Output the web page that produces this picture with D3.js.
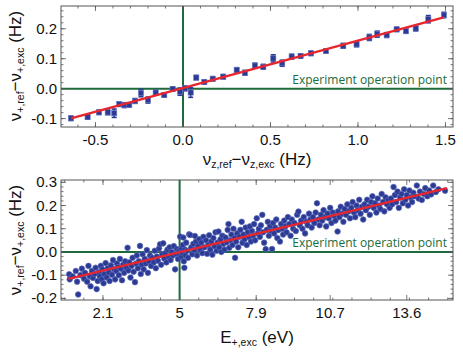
<!DOCTYPE html>
<html><head><meta charset="utf-8">
<script src="https://cdn.jsdelivr.net/npm/d3@7"></script>
<style>html,body{margin:0;padding:0;background:#fff;}svg{display:block;}</style>
</head><body>
<script>
// ---------- DATA ----------
const topX = [-0.64,-0.545,-0.48,-0.43,-0.393,-0.364,-0.335,-0.307,-0.274,-0.24,-0.20,-0.156,-0.107,-0.059,-0.017,0.011,0.044,0.076,0.122,0.17,0.23,0.307,0.354,0.411,0.459,0.516,0.567,0.621,0.672,0.731,0.817,0.916,0.992,1.065,1.11,1.164,1.221,1.274,1.33,1.402,1.491];
const topY = [-0.099,-0.095,-0.079,-0.079,-0.082,-0.052,-0.055,-0.054,-0.041,-0.015,-0.038,-0.013,-0.021,-0.001,-0.010,0.001,-0.013,0.037,0.022,0.033,0.040,0.062,0.053,0.077,0.073,0.101,0.085,0.107,0.109,0.118,0.126,0.143,0.148,0.171,0.182,0.179,0.198,0.192,0.201,0.232,0.246];
const topErr = [0.007,0.007,0.007,0.008,0.014,0.007,0.008,0.007,0.008,0.012,0.010,0.008,0.007,0.007,0.012,0.008,0.016,0.007,0.007,0.007,0.007,0.008,0.008,0.008,0.008,0.012,0.010,0.008,0.007,0.007,0.007,0.008,0.008,0.010,0.010,0.008,0.007,0.007,0.008,0.012,0.009];
const topFitX = [-0.64, 1.49];
const topFitY = [-0.099, 0.238];
const topXTicks = [-0.5, 0.0, 0.5, 1.0, 1.5];
const topYTicks = [-0.1, 0.0, 0.1, 0.2];

const botE = [0.82,0.84,0.95,1.07,1.12,1.16,1.25,1.30,1.38,1.42,1.50,1.55,1.60,1.63,1.68,1.72,1.78,1.82,1.86,1.90,1.95,1.98,2.02,2.05,
2.08,2.12,2.15,2.20,2.24,2.28,2.32,2.35,2.40,2.44,2.48,2.52,2.56,2.60,2.63,2.67,2.70,2.74,2.78,2.82,2.86,2.90,2.94,2.98,
3.03,3.06,3.10,3.14,3.18,3.22,3.26,3.31,3.35,3.38,3.42,3.46,3.50,3.53,3.57,3.60,3.64,3.68,3.72,3.76,3.80,3.84,3.88,3.92,3.96,
4.02,4.06,4.10,4.14,4.18,4.22,4.26,4.30,4.34,4.38,4.42,4.46,4.50,4.54,4.58,4.62,4.66,4.70,4.74,4.78,4.83,4.86,4.90,4.94,4.97,
5.00,5.02,5.04,5.06,5.08,5.10,5.12,5.14,5.16,5.18,5.20,5.22,5.25,5.28,5.32,5.36,5.40,5.44,5.48,5.52,5.56,5.58,5.62,5.66,5.70,5.74,5.78,5.82,5.86,5.90,5.94,
6.00,6.04,6.08,6.12,6.16,6.20,6.24,6.28,6.32,6.36,6.40,6.44,6.47,6.50,6.55,6.58,6.62,6.66,6.70,6.74,6.78,6.82,6.85,6.88,6.92,6.96,
7.00,7.04,7.08,7.10,7.14,7.18,7.22,7.26,7.30,7.35,7.38,7.42,7.46,7.50,7.54,7.58,7.62,7.66,7.70,7.74,7.78,7.82,7.86,7.92,7.96,
8.00,8.04,8.08,8.13,8.16,8.20,8.26,8.30,8.34,8.38,8.42,8.46,8.50,8.54,8.58,8.62,8.66,8.70,8.74,8.80,8.84,8.88,8.92,8.96,
9.00,9.05,9.10,9.15,9.20,9.25,9.30,9.35,9.40,9.45,9.50,9.55,9.60,9.65,9.70,9.75,9.80,9.85,9.90,9.95,
10.00,10.05,10.10,10.15,10.20,10.25,10.30,10.35,10.40,10.45,10.50,10.55,10.60,10.65,10.70,10.75,10.80,10.85,10.90,10.98,
11.00,11.05,11.10,11.15,11.20,11.25,11.30,11.35,11.40,11.45,11.50,11.55,11.60,11.65,11.70,11.75,11.80,11.85,11.90,11.95,
12.00,12.05,12.10,12.15,12.20,12.25,12.30,12.35,12.40,12.45,12.50,12.55,12.60,12.65,12.70,12.75,12.80,12.85,12.90,12.95,
13.00,13.05,13.10,13.15,13.20,13.25,13.30,13.35,13.40,13.45,13.50,13.55,13.60,13.65,13.70,13.75,13.80,13.85,13.90,13.98,
14.05,14.10,14.17,14.25,14.30,14.38,14.45,14.52,14.60,14.70,14.80,15.05];
const botY = [-0.096,-0.118,-0.105,-0.082,-0.128,-0.183,-0.100,-0.072,-0.115,-0.090,-0.128,-0.060,-0.105,-0.148,-0.082,-0.112,-0.095,-0.068,-0.160,-0.125,-0.088,-0.105,-0.060,-0.118,
-0.075,-0.135,-0.095,-0.048,-0.110,-0.070,-0.088,-0.125,-0.058,-0.098,-0.035,-0.075,-0.118,-0.082,-0.050,-0.065,-0.100,-0.030,-0.072,-0.122,-0.055,-0.090,-0.040,-0.068,
0.018,-0.080,-0.045,-0.110,-0.060,-0.025,-0.085,-0.130,-0.050,-0.015,-0.070,-0.040,0.026,-0.095,-0.055,-0.010,-0.075,-0.030,-0.050,0.008,-0.090,-0.040,-0.015,-0.060,-0.025,
-0.045,0.005,-0.070,-0.020,-0.038,0.015,0.033,-0.055,-0.010,0.037,-0.028,-0.005,-0.045,0.010,-0.020,0.020,-0.035,0.000,-0.015,0.025,-0.075,-0.008,0.012,-0.030,0.005,
-0.010,0.066,0.002,-0.020,0.015,-0.005,0.030,0.062,-0.040,-0.068,0.010,-0.015,0.040,0.005,-0.025,0.076,0.073,0.020,-0.010,0.035,0.008,0.069,0.045,-0.015,0.025,0.055,0.010,0.040,-0.005,0.065,0.020,
0.050,-0.008,0.030,0.072,0.010,0.045,-0.012,0.060,0.025,0.085,0.005,0.040,0.088,0.020,0.055,0.000,0.070,0.035,0.010,0.062,0.042,0.095,0.120,0.018,0.050,0.075,
0.030,0.100,0.060,-0.025,0.045,0.080,0.020,0.065,0.095,0.130,0.040,0.075,0.055,0.105,0.030,0.085,0.065,0.110,0.045,0.090,0.070,0.120,0.050,0.145,0.080,
0.100,0.065,0.115,0.160,0.085,0.040,0.012,0.095,0.130,0.070,0.110,0.090,0.013,0.125,0.080,0.105,0.140,0.060,0.095,0.045,0.120,0.100,0.075,0.135,
0.110,0.085,0.150,0.120,0.070,0.140,0.100,0.125,0.090,0.160,0.174,0.115,0.135,0.100,0.150,0.080,0.130,0.115,0.165,0.140,
0.105,0.150,0.125,0.170,0.210,0.140,0.115,0.160,0.135,0.180,0.150,0.110,0.165,0.145,0.190,0.125,0.170,0.155,0.135,0.088,
0.175,0.150,0.195,0.165,0.130,0.185,0.160,0.205,0.175,0.145,0.190,0.215,0.170,0.150,0.200,0.180,0.225,0.165,0.195,0.140,
0.205,0.180,0.225,0.195,0.160,0.215,0.240,0.190,0.210,0.170,0.230,0.200,0.185,0.250,0.215,0.175,0.235,0.205,0.225,0.190,
0.230,0.205,0.280,0.245,0.215,0.260,0.190,0.235,0.250,0.210,0.270,0.225,0.245,0.200,0.265,0.235,0.215,0.255,0.240,0.286,
0.230,0.260,0.224,0.250,0.275,0.240,0.265,0.248,0.286,0.258,0.270,0.264];
const botFitX = [0.79, 15.12];
const botFitY = [-0.116, 0.275];
const botXTicks = [2.1, 5, 7.9, 10.7, 13.6];
const botYTicks = [-0.2, -0.1, 0.0, 0.1, 0.2, 0.3];
const annotation = "Experiment operation point";

// ---------- STYLE ----------
const W = 463, H = 356;
const GREEN = "#1d6b3a", BLUE = "#2b3a94", RED = "#e8262d", FRAME = "#555";

const svg = d3.select("body").append("svg").attr("width", W).attr("height", H)
  .style("font-family", "'Liberation Sans', Arial, sans-serif");
svg.append("rect").attr("width", W).attr("height", H).attr("fill", "#fff");

function panel(cfg) {
  const {x, y, left, right, top, bottom, xTicks, yTicks, xMinor, yMinor, xFmt, yFmt, id} = cfg;
  const g = svg.append("g");
  g.append("clipPath").attr("id", id).append("rect")
    .attr("x", left).attr("y", top).attr("width", right - left).attr("height", bottom - top);
  g.append("line").attr("x1", left).attr("x2", right).attr("y1", y(0)).attr("y2", y(0))
    .attr("stroke", GREEN).attr("stroke-width", 2);
  g.append("line").attr("x1", x(cfg.vLine)).attr("x2", x(cfg.vLine)).attr("y1", top).attr("y2", bottom)
    .attr("stroke", GREEN).attr("stroke-width", 2);
  g.append("rect").attr("x", left).attr("y", top).attr("width", right - left).attr("height", bottom - top)
    .attr("fill", "none").attr("stroke", FRAME).attr("stroke-width", 1);
  const tk = g.append("g").attr("stroke", FRAME).attr("stroke-width", 0.8);
  xMinor.forEach(v => {
    const px = x(v); if (px < left || px > right) return;
    tk.append("line").attr("x1", px).attr("x2", px).attr("y1", bottom).attr("y2", bottom - 2.5);
    tk.append("line").attr("x1", px).attr("x2", px).attr("y1", top).attr("y2", top + 2.5);
  });
  xTicks.forEach(v => {
    const px = x(v);
    tk.append("line").attr("x1", px).attr("x2", px).attr("y1", bottom).attr("y2", bottom - 5);
    tk.append("line").attr("x1", px).attr("x2", px).attr("y1", top).attr("y2", top + 5);
  });
  yMinor.forEach(v => {
    const py = y(v); if (py < top || py > bottom) return;
    tk.append("line").attr("x1", left).attr("x2", left + 2.5).attr("y1", py).attr("y2", py);
    tk.append("line").attr("x1", right).attr("x2", right - 2.5).attr("y1", py).attr("y2", py);
  });
  yTicks.forEach(v => {
    const py = y(v);
    tk.append("line").attr("x1", left).attr("x2", left + 5).attr("y1", py).attr("y2", py);
    tk.append("line").attr("x1", right).attr("x2", right - 5).attr("y1", py).attr("y2", py);
  });
  yTicks.forEach(v => {
    g.append("text").attr("x", left - 4).attr("y", y(v) + 5).attr("text-anchor", "end")
      .attr("font-size", 15).attr("fill", "#111").text(yFmt(v));
  });
  xTicks.forEach(v => {
    g.append("text").attr("x", x(v)).attr("y", bottom + 18).attr("text-anchor", "middle")
      .attr("font-size", 15).attr("fill", "#111").text(xFmt(v));
  });
  g.append("text").attr("x", right - 6).attr("y", y(0) - 5).attr("text-anchor", "end")
    .attr("font-family", "'Open Sans', sans-serif").attr("font-size", 12).attr("fill", GREEN)
    .text(annotation);
  return g.append("g").attr("clip-path", `url(#${id})`);
}

function addTitle(tx, ty, rotate, parts) {
  const t = svg.append("text").attr("transform", `translate(${tx},${ty})` + (rotate ? " rotate(-90)" : ""))
    .attr("text-anchor", "middle").attr("fill", "#111");
  parts.forEach(p => {
    const s = t.append("tspan").text(p[0]).attr("font-size", p[1]);
    if (p[2]) s.attr("dy", p[2]);
  });
}

// ---------- TOP PANEL ----------
const xT = d3.scaleLinear().domain([-0.697, 1.543]).range([61, 453]);
const yT = d3.scaleLinear().domain([-0.128, 0.276]).range([127, 6]);
const fmt1 = v => (v < 0 ? "-" : "") + Math.abs(v).toFixed(1);
const gT = panel({x: xT, y: yT, left: 61, right: 453, top: 6, bottom: 127, id: "clipT",
  xTicks: topXTicks, yTicks: topYTicks, vLine: 0,
  xMinor: d3.range(-0.7, 1.55, 0.1), yMinor: d3.range(-0.12, 0.28, 0.02),
  xFmt: fmt1, yFmt: fmt1});
const topData = topX.map((v, i) => ({x: v, y: topY[i], e: topErr[i]}));
const eb = gT.append("g").attr("stroke", BLUE).attr("stroke-width", 1.6);
topData.forEach(d => {
  const px = xT(d.x), y1 = yT(d.y - d.e), y2 = yT(d.y + d.e);
  eb.append("line").attr("x1", px).attr("x2", px).attr("y1", y1).attr("y2", y2);
  eb.append("line").attr("x1", px - 2.5).attr("x2", px + 2.5).attr("y1", y1).attr("y2", y1);
  eb.append("line").attr("x1", px - 2.5).attr("x2", px + 2.5).attr("y1", y2).attr("y2", y2);
});
gT.selectAll("rect.pt").data(topData).join("rect").attr("class", "pt")
  .attr("x", d => xT(d.x) - 2.6).attr("y", d => yT(d.y) - 2.6).attr("width", 5.2).attr("height", 5.2)
  .attr("fill", BLUE).attr("stroke", "#6d7cc4").attr("stroke-width", 0.6);
gT.append("path").datum(topFitX.map((v, i) => [v, topFitY[i]]))
  .attr("d", d3.line().x(d => xT(d[0])).y(d => yT(d[1])))
  .attr("stroke", RED).attr("stroke-width", 2.4).attr("fill", "none");

// ---------- BOTTOM PANEL ----------
const xB = d3.scaleLinear().domain([0.51, 15.35]).range([61, 453]);
const yB = d3.scaleLinear().domain([-0.207, 0.31]).range([300, 180]);
const gB = panel({x: xB, y: yB, left: 61, right: 453, top: 180, bottom: 300, id: "clipB",
  xTicks: botXTicks, yTicks: botYTicks, vLine: 5,
  xMinor: d3.range(-0.075, 16, 0.725), yMinor: d3.range(-0.2, 0.32, 0.02),
  xFmt: v => String(v), yFmt: fmt1});
const botData = botE.map((v, i) => ({x: v, y: botY[i]}));
gB.selectAll("circle").data(botData).join("circle")
  .attr("cx", d => xB(d.x)).attr("cy", d => yB(d.y)).attr("r", 2.8)
  .attr("fill", BLUE).attr("stroke", "#5a68b8").attr("stroke-width", 0.7);
gB.append("path").datum(botFitX.map((v, i) => [v, botFitY[i]]))
  .attr("d", d3.line().x(d => xB(d[0])).y(d => yB(d[1])))
  .attr("stroke", RED).attr("stroke-width", 2.4).attr("fill", "none");

// ---------- AXIS TITLES ----------
addTitle(257, 165, false, [["ν", 17], ["z,ref", 10.5, 3], ["−ν", 17, -3], ["z,exc", 10.5, 3], [" (Hz)", 17, -3]]);
addTitle(21, 66, true, [["ν", 17], ["+,ref", 10.5, 3], ["−ν", 17, -3], ["+,exc", 10.5, 3], [" (Hz)", 17, -3]]);
addTitle(21, 240, true, [["ν", 17], ["+,ref", 10.5, 3], ["−ν", 17, -3], ["+,exc", 10.5, 3], [" (Hz)", 17, -3]]);
addTitle(257, 343, false, [["E", 17], ["+,exc", 10.5, 3], [" (eV)", 17, -3]]);
</script>
</body></html>
